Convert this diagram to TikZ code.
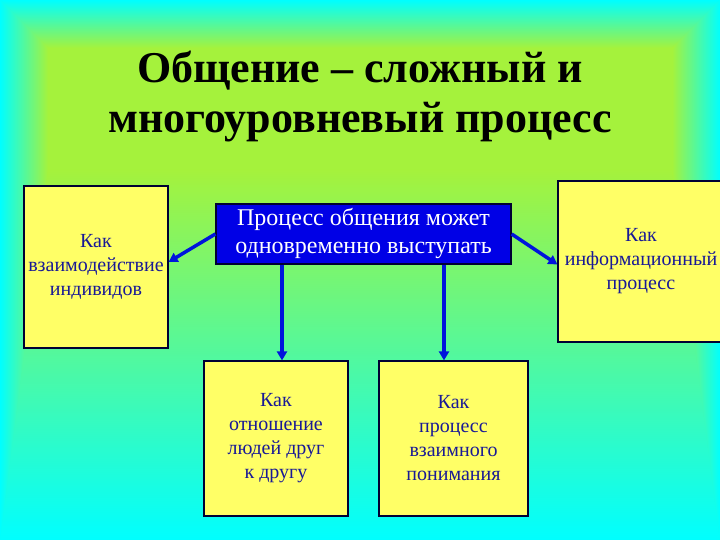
\documentclass[tikz,border=0pt]{standalone}
\usepackage{fontspec}
\setmainfont{Liberation Serif}
\usetikzlibrary{arrows.meta,positioning}
\definecolor{bgcyan}{RGB}{0,255,255}
\definecolor{bggreen}{RGB}{165,242,60}
\definecolor{boxyellow}{RGB}{255,255,102}
\definecolor{boxblue}{RGB}{0,0,230}
\definecolor{textnavy}{RGB}{25,25,150}
\definecolor{arrowblue}{RGB}{0,20,220}
\tikzset{
  basebox/.style={rectangle,draw=black!80!blue,line width=1.2pt,align=center,inner sep=0pt},
  yelnode/.style={basebox,fill=boxyellow,text=textnavy,font=\fontsize{20}{24}\selectfont},
  bluenode/.style={basebox,fill=boxblue,text=white,font=\fontsize{24}{28}\selectfont},
  titlenode/.style={align=center,font=\fontsize{44}{50}\selectfont\bfseries},
  arr/.style={-{Triangle[length=9pt,width=10pt]},line width=3.5pt,color=arrowblue}
}

\begin{document}
\begin{tikzpicture}[x=1pt,y=1pt]
  \useasboundingbox (0,0) rectangle (720,540);
  % background shaded outward from the title area
  \fill[bggreen] (0,0) rectangle (720,540);
  \shade[top color=bgcyan,bottom color=bggreen] (0,492) rectangle (720,540);
  \shade[top color=bggreen,bottom color=bgcyan] (0,0) rectangle (720,370);
  \shade[left color=bgcyan,right color=bggreen] (0,540) -- (48,492) -- (48,370) -- (0,0) -- cycle;
  \shade[left color=bggreen,right color=bgcyan] (672,492) -- (720,540) -- (720,0) -- (672,370) -- cycle;

  \node[titlenode] (title) at (360,443) {Общение – сложный и\\многоуровневый процесс};

  \node[bluenode,minimum width=295pt,minimum height=60pt] (proc) at (363.5,306)
      {Процесс общения может\\одновременно выступать};

  \node[yelnode,minimum width=144pt,minimum height=162pt] (inter) at (96,273)
      {Как\\взаимодействие\\индивидов};
  \node[yelnode,minimum width=166pt,minimum height=161pt] (info) at (641,278.5)
      {Как\\информационный\\процесс};
  \node[yelnode,minimum width=144pt,minimum height=155pt] (rel) at (276,101.5)
      {Как\\отношение\\людей друг\\к другу};
  \node[yelnode,minimum width=149pt,minimum height=155pt] (under) at (453.5,101.5)
      {Как\\процесс\\взаимного\\понимания};

  \draw[arr] (proc.west) -- ([yshift=5pt]inter.east);
  \draw[arr] (proc.east) -- ([yshift=-3pt]info.west);
  \draw[arr] ([xshift=-81.5pt]proc.south) -- ([xshift=-81.5pt]proc.south |- rel.north);
  \draw[arr] ([xshift=80.5pt]proc.south) -- ([xshift=80.5pt]proc.south |- under.north);
\end{tikzpicture}
\end{document}
